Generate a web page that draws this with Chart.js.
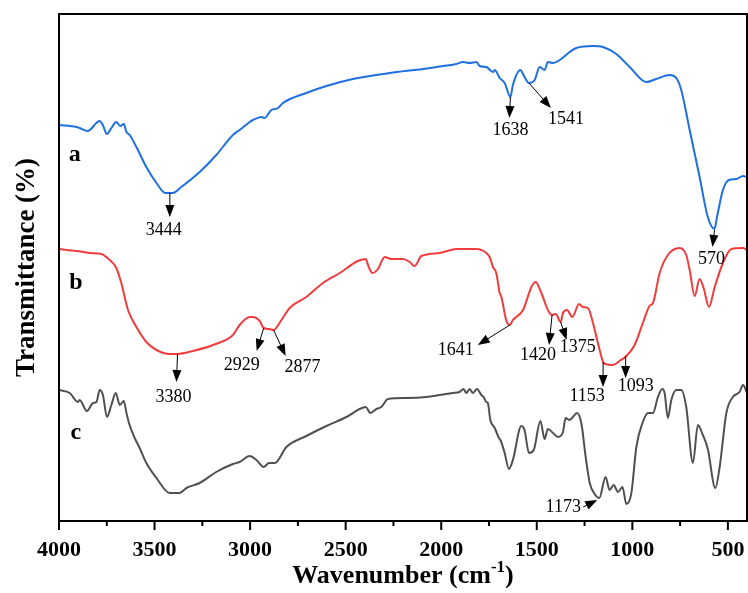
<!DOCTYPE html>
<html>
<head>
<meta charset="utf-8">
<title>FTIR spectra</title>
<script src="https://cdn.jsdelivr.net/npm/chart.js@4.4.1/dist/chart.umd.min.js"></script>
<style>
  html, body { margin: 0; padding: 0; background: #fff; }
  #wrap { width: 748px; height: 593px; }
</style>
</head>
<body>
<div id="wrap"><canvas id="ftir" width="748" height="593"></canvas></div>
<script>
'use strict';

// ── spectra (wavenumber in cm-1, transmittance in offset arbitrary units) ──
const waveA = [4000, 3909, 3892, 3850, 3787, 3771, 3749, 3726, 3700, 3679, 3661, 3647, 3630, 3595, 3543, 3490, 3444, 3404, 3360, 3264,
  3177, 3090, 3055, 3002, 2985, 2941, 2924, 2889, 2854, 2828, 2706, 2601, 2462, 2270, 2096, 1991, 1921, 1886, 1851, 1816,
  1799, 1764, 1729, 1720, 1694, 1668, 1638, 1625, 1586, 1564, 1541, 1511, 1485, 1459, 1442, 1415, 1380, 1328, 1293, 1206,
  1154, 1084, 1014, 927, 875, 805, 770, 744, 700, 648, 605, 570, 557, 526, 495, 456, 421, 400];
const transA = [396, 394, 393, 390, 400, 396, 387, 393, 399, 395, 397, 389, 386, 374, 354, 338, 328, 328, 334, 349,
  366, 386, 391, 399, 401, 404, 403, 411, 413, 418, 428, 435, 442, 448, 452, 455, 457, 459, 458, 459,
  455, 454, 449, 451, 443, 438, 424, 436, 451, 444, 438, 441, 454, 451, 459, 458, 461, 469, 473, 475,
  474, 467, 454, 439, 442, 446, 443, 431, 391, 344, 304, 292, 304, 331, 341, 342, 345, 344];

const waveB = [4000, 3909, 3839, 3778, 3735, 3700, 3674, 3639, 3595, 3543, 3490, 3421, 3380, 3299, 3194, 3090, 3055, 3002, 2985, 2950,
  2929, 2900, 2877, 2836, 2793, 2706, 2619, 2531, 2436, 2395, 2383, 2360, 2331, 2296, 2261, 2200, 2165, 2139, 2104, 2008,
  1921, 1816, 1764, 1747, 1729, 1712, 1694, 1685, 1659, 1641, 1625, 1607, 1572, 1528, 1506, 1476, 1442, 1420, 1401, 1375,
  1363, 1342, 1314, 1279, 1259, 1232, 1206, 1180, 1153, 1140, 1102, 1067, 1031, 988, 945, 910, 892, 857, 814, 753,
  718, 700, 674, 648, 627, 599, 569, 526, 482, 421, 400];
const transB = [272, 270, 268, 267, 261, 253, 238, 211, 194, 179, 171, 167, 167, 170, 176, 186, 196, 204, 204, 200,
  193, 192, 191, 201, 213, 224, 238, 248, 260, 262, 256, 248, 252, 264, 262, 262, 259, 255, 265, 268,
  272, 272, 268, 264, 254, 248, 228, 224, 200, 196, 201, 204, 211, 234, 239, 228, 211, 206, 207, 199,
  208, 211, 204, 217, 214, 213, 198, 178, 159, 157, 156, 160, 165, 176, 198, 215, 218, 248, 266, 273,
  266, 251, 225, 242, 233, 214, 234, 258, 272, 273, 271];

const waveC = [4000, 3944, 3901, 3892, 3854, 3822, 3804, 3787, 3770, 3749, 3726, 3703, 3682, 3661, 3647, 3634, 3604, 3578, 3543, 3490,
  3421, 3369, 3333, 3264, 3177, 3090, 3055, 3002, 2967, 2929, 2901, 2871, 2810, 2706, 2601, 2496, 2427, 2395, 2371, 2339,
  2313, 2279, 2182, 2078, 2008, 1939, 1904, 1883, 1869, 1851, 1834, 1813, 1790, 1778, 1764, 1756, 1743, 1720, 1698, 1690,
  1668, 1646, 1625, 1581, 1564, 1541, 1516, 1481, 1459, 1442, 1415, 1389, 1363, 1349, 1328, 1311, 1290, 1267, 1244, 1223,
  1197, 1173, 1140, 1119, 1098, 1075, 1052, 1031, 1005, 979, 945, 918, 892, 866, 843, 831, 814, 796, 770, 744,
  718, 683, 657, 631, 605, 566, 543, 508, 474, 439, 421, 400];
const transC = [131, 128, 119, 121, 110, 118, 119, 131, 126, 104, 116, 128, 116, 120, 108, 98, 83, 73, 58, 43,
  28, 28, 33, 38, 49, 57, 59, 65, 61, 54, 58, 58, 74, 85, 95, 104, 112, 114, 108, 112,
  114, 122, 123, 124, 126, 128, 129, 132, 128, 132, 128, 132, 126, 124, 119, 118, 101, 93, 83, 81,
  68, 52, 61, 95, 91, 68, 71, 100, 82, 92, 88, 84, 89, 103, 101, 104, 108, 98, 64, 38,
  27, 23, 44, 31, 36, 29, 34, 17, 28, 74, 99, 108, 108, 124, 132, 128, 103, 121, 131, 131,
  114, 58, 96, 86, 72, 33, 54, 108, 124, 129, 136, 128];

const seriesNames = ['a', 'b', 'c'];
const seriesColors = ['#1f6fe0', '#f03c3c', '#505050'];

// axis ticks
const majorTicks = [4000, 3500, 3000, 2500, 2000, 1500, 1000, 500];
const minorTicks = [3750, 3250, 2750, 2250, 1750, 1250, 750];

// peak labels: anchor (wn, t) on the curve, arrow from/to and label centre as pixel offsets
const peakMarks = [
  { text: '3444', wn: 3420, t: 328, from: [0, 0], to: [0, 24], lab: [-6, 37] },
  { text: '1638', wn: 1638, t: 424, from: [0, 0], to: [-1, 21], lab: [0, 33] },
  { text: '1541', wn: 1541, t: 438, from: [0, 0], to: [22, 25], lab: [37, 36] },
  { text: '570', wn: 570, t: 291, from: [0, 0], to: [-2, 17], lab: [-3, 29] },
  { text: '3380', wn: 3380, t: 167, from: [0, 0], to: [-1, 28], lab: [-4, 43] },
  { text: '2929', wn: 2929, t: 193, from: [0, 0], to: [-7, 23], lab: [-22, 37] },
  { text: '2877', wn: 2877, t: 191, from: [0, 0], to: [12, 26], lab: [29, 37] },
  { text: '1641', wn: 1641, t: 196, from: [0, 0], to: [-32, 20], lab: [-54, 25] },
  { text: '1420', wn: 1420, t: 206, from: [0, 0], to: [-3, 30], lab: [-14, 40] },
  { text: '1375', wn: 1375, t: 199, from: [0, 0], to: [6, 18], lab: [17, 25] },
  { text: '1153', wn: 1153, t: 159, from: [0, 0], to: [0, 25], lab: [-16, 34] },
  { text: '1093', wn: 1035, t: 165, from: [0, 0], to: [0, 22], lab: [10, 30] },
  { text: '1173', wn: 1173, t: 23, from: [-16, 9], to: [-2, 2], lab: [-36, 9] }
];

// curve letters placed in data units
const letterPos = [[3918, 366], [3912, 238], [3912, 88]];

const SERIF = "'Liberation Serif', 'Times New Roman', serif";

function pts(xs, ys) {
  return xs.map((x, i) => ({ x: x, y: ys[i] }));
}

function arrow(ctx, x1, y1, x2, y2) {
  const ang = Math.atan2(y2 - y1, x2 - x1);
  const hl = 12, hw = 4.5;
  const c = Math.cos(ang), s = Math.sin(ang);
  ctx.beginPath();
  ctx.moveTo(x1, y1);
  ctx.lineTo(x2 - c * hl * 0.7, y2 - s * hl * 0.7);
  ctx.stroke();
  ctx.beginPath();
  ctx.moveTo(x2, y2);
  ctx.lineTo(x2 - hl * c + hw * s, y2 - hl * s - hw * c);
  ctx.lineTo(x2 - hl * c - hw * s, y2 - hl * s + hw * c);
  ctx.closePath();
  ctx.fill();
}

// frame, ticks, titles and peak annotations
const decorPlugin = {
  id: 'decor',
  afterDraw(chart) {
    const ctx = chart.ctx;
    const area = chart.chartArea;
    const xs = chart.scales.x, ys = chart.scales.y;
    ctx.save();

    ctx.strokeStyle = '#000';
    ctx.lineWidth = 2;
    ctx.strokeRect(area.left, area.top, area.right - area.left, area.bottom - area.top);

    ctx.beginPath();
    majorTicks.forEach(v => {
      const px = xs.getPixelForValue(v);
      ctx.moveTo(px, area.bottom); ctx.lineTo(px, area.bottom + 9);
    });
    minorTicks.forEach(v => {
      const px = xs.getPixelForValue(v);
      ctx.moveTo(px, area.bottom); ctx.lineTo(px, area.bottom + 5);
    });
    ctx.stroke();

    // x title with superscript
    ctx.fillStyle = '#000';
    ctx.textBaseline = 'alphabetic';
    const t1 = 'Wavenumber (cm', t3 = ')';
    ctx.font = 'bold 17px ' + SERIF;
    const wSup = ctx.measureText('-1').width;
    ctx.font = 'bold 26px ' + SERIF;
    const w1 = ctx.measureText(t1).width, w3 = ctx.measureText(t3).width;
    const tx = (area.left + area.right) / 2 - (w1 + wSup + w3) / 2;
    const tb = 583;
    ctx.textAlign = 'left';
    ctx.fillText(t1, tx, tb);
    ctx.font = 'bold 17px ' + SERIF;
    ctx.fillText('-1', tx + w1, tb - 11);
    ctx.font = 'bold 26px ' + SERIF;
    ctx.fillText(t3, tx + w1 + wSup, tb);

    // y title
    ctx.save();
    ctx.translate(34, (area.top + area.bottom) / 2);
    ctx.rotate(-Math.PI / 2);
    ctx.textAlign = 'center';
    ctx.font = 'bold 27px ' + SERIF;
    ctx.fillText('Transmittance (%)', 0, 0);
    ctx.restore();

    // curve letters
    ctx.textAlign = 'center';
    ctx.textBaseline = 'middle';
    ctx.font = 'bold 24px ' + SERIF;
    seriesNames.forEach((n, i) => {
      ctx.fillText(n, xs.getPixelForValue(letterPos[i][0]), ys.getPixelForValue(letterPos[i][1]));
    });

    // peak annotations
    ctx.lineWidth = 1;
    ctx.font = '18px ' + SERIF;
    peakMarks.forEach(m => {
      const ax = xs.getPixelForValue(m.wn), ay = ys.getPixelForValue(m.t);
      arrow(ctx, ax + m.from[0], ay + m.from[1], ax + m.to[0], ay + m.to[1]);
      ctx.fillText(m.text, ax + m.lab[0], ay + m.lab[1]);
    });

    ctx.restore();
  }
};

const chart = new Chart(document.getElementById('ftir').getContext('2d'), {
  type: 'line',
  data: {
    datasets: [
      { label: seriesNames[0], data: pts(waveA, transA), borderColor: seriesColors[0] },
      { label: seriesNames[1], data: pts(waveB, transB), borderColor: seriesColors[1] },
      { label: seriesNames[2], data: pts(waveC, transC), borderColor: seriesColors[2] }
    ]
  },
  options: {
    responsive: false,
    animation: false,
    devicePixelRatio: 1,
    layout: { padding: { top: 14, right: 1, left: 0, bottom: 0 } },
    elements: {
      line: { borderWidth: 2, cubicInterpolationMode: 'monotone', fill: false },
      point: { radius: 0 }
    },
    plugins: { legend: { display: false }, tooltip: { enabled: false } },
    scales: {
      x: {
        type: 'linear',
        reverse: true,
        min: 400,
        max: 4000,
        afterBuildTicks: s => { s.ticks = majorTicks.map(v => ({ value: v })); },
        afterFit: s => { s.height = 72; s.paddingLeft = 0; s.paddingRight = 0; },
        grid: { display: false, drawTicks: false },
        border: { display: false },
        ticks: {
          padding: 16,
          color: '#000',
          maxRotation: 0,
          autoSkip: false,
          font: { family: SERIF, size: 22, weight: 'bold' },
          callback: v => String(v)
        }
      },
      y: {
        min: 0,
        max: 507,
        afterFit: s => { s.width = 59; },
        grid: { display: false },
        border: { display: false },
        ticks: { display: false }
      }
    }
  },
  plugins: [decorPlugin]
});
</script>
</body>
</html>
